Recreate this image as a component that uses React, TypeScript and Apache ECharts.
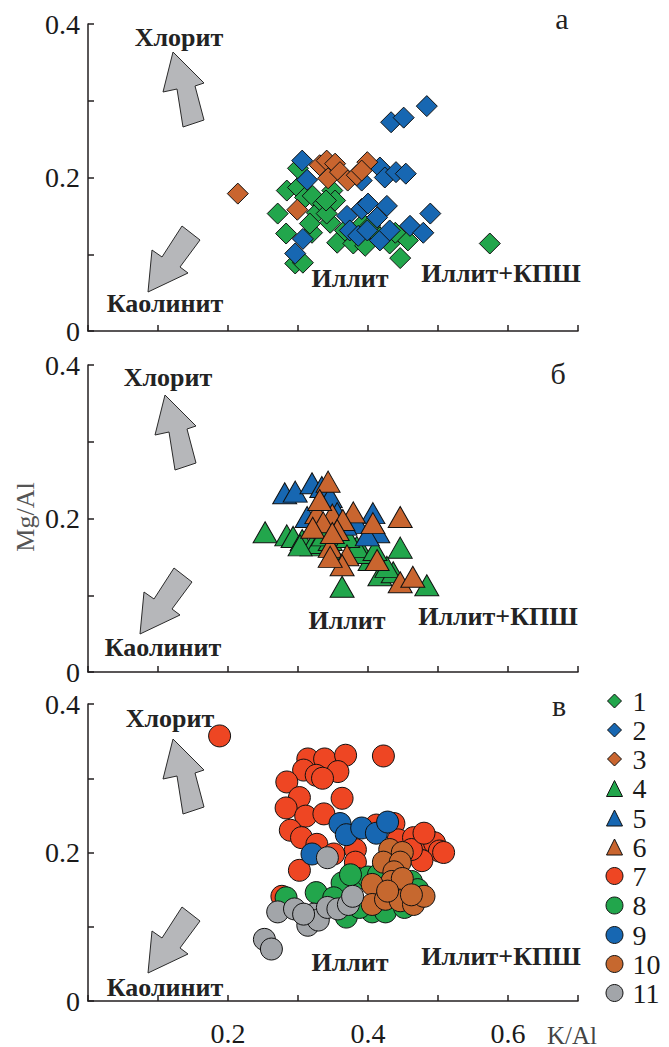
import React, { useEffect, useRef } from 'react';
import * as echarts from 'echarts';

// ---------- DATA ----------
const legendNames = ['1', '2', '3', '4', '5', '6', '7', '8', '9', '10', '11'];
const xLabelValues = [0.2, 0.4, 0.6];
const yLabelValues = [0, 0.2, 0.4];

// panel а — diamonds
const s1: number[][] = [
  [0.574, 0.114], [0.446, 0.095], [0.271, 0.153], [0.284, 0.183], [0.283, 0.127], [0.296, 0.088],
  [0.307, 0.089], [0.300, 0.187], [0.310, 0.174], [0.321, 0.176], [0.327, 0.154], [0.336, 0.166],
  [0.349, 0.183], [0.353, 0.170], [0.346, 0.141], [0.320, 0.128], [0.317, 0.140], [0.356, 0.115],
  [0.379, 0.114], [0.396, 0.111], [0.417, 0.122], [0.431, 0.114], [0.457, 0.118], [0.393, 0.140],
  [0.300, 0.212], [0.341, 0.153], [0.340, 0.170], [0.367, 0.131], [0.403, 0.137], [0.439, 0.128],
];
const s2: number[][] = [
  [0.484, 0.293], [0.433, 0.272], [0.451, 0.278], [0.306, 0.222], [0.313, 0.197], [0.417, 0.213],
  [0.424, 0.200], [0.440, 0.207], [0.454, 0.205], [0.391, 0.196], [0.370, 0.150], [0.391, 0.159],
  [0.400, 0.166], [0.427, 0.163], [0.413, 0.148], [0.374, 0.131], [0.386, 0.124], [0.399, 0.131],
  [0.417, 0.118], [0.431, 0.131], [0.460, 0.137], [0.479, 0.128], [0.489, 0.153], [0.307, 0.120],
  [0.296, 0.101],
];
const s3: number[][] = [
  [0.214, 0.179], [0.299, 0.158], [0.331, 0.216], [0.341, 0.222], [0.343, 0.199], [0.353, 0.218],
  [0.360, 0.207], [0.371, 0.196], [0.384, 0.203], [0.399, 0.220], [0.391, 0.209],
];

// panel б — triangles
const s4: number[][] = [
  [0.253, 0.182], [0.284, 0.178], [0.293, 0.176], [0.306, 0.172], [0.320, 0.165], [0.329, 0.168],
  [0.346, 0.172], [0.363, 0.111], [0.446, 0.162], [0.484, 0.113], [0.417, 0.126], [0.436, 0.130],
  [0.403, 0.146], [0.393, 0.155], [0.384, 0.163], [0.371, 0.176], [0.427, 0.137], [0.336, 0.178],
  [0.303, 0.165], [0.353, 0.152], [0.410, 0.159],
];
const s5: number[][] = [
  [0.281, 0.233], [0.296, 0.235], [0.320, 0.246], [0.334, 0.241], [0.346, 0.228], [0.407, 0.207],
  [0.414, 0.182], [0.399, 0.178], [0.384, 0.194], [0.313, 0.202], [0.356, 0.207], [0.367, 0.192],
];
const s6: number[][] = [
  [0.343, 0.248], [0.446, 0.202], [0.379, 0.208], [0.349, 0.205], [0.327, 0.207], [0.336, 0.195],
  [0.364, 0.198], [0.407, 0.194], [0.346, 0.163], [0.370, 0.152], [0.363, 0.139], [0.413, 0.146],
  [0.446, 0.117], [0.464, 0.124], [0.331, 0.224], [0.321, 0.188], [0.356, 0.185], [0.346, 0.150],
  [0.349, 0.181],
];

// panel в — circles
const s7: number[][] = [
  [0.188, 0.357], [0.314, 0.326], [0.338, 0.326], [0.368, 0.331], [0.422, 0.330], [0.308, 0.311],
  [0.326, 0.304], [0.357, 0.309], [0.335, 0.300], [0.284, 0.295], [0.302, 0.274], [0.363, 0.273],
  [0.283, 0.260], [0.311, 0.249], [0.337, 0.252], [0.289, 0.230], [0.305, 0.220], [0.327, 0.211],
  [0.351, 0.198], [0.382, 0.204], [0.382, 0.187], [0.302, 0.176], [0.277, 0.141], [0.412, 0.237],
  [0.437, 0.239], [0.443, 0.217], [0.465, 0.220], [0.486, 0.217], [0.495, 0.213], [0.502, 0.202],
  [0.477, 0.189], [0.462, 0.204], [0.480, 0.226], [0.508, 0.200],
];
const s8: number[][] = [
  [0.283, 0.139], [0.326, 0.146], [0.363, 0.159], [0.385, 0.165], [0.400, 0.167], [0.462, 0.161],
  [0.471, 0.150], [0.369, 0.113], [0.406, 0.120], [0.425, 0.120], [0.388, 0.126], [0.452, 0.126],
  [0.375, 0.170], [0.351, 0.139], [0.415, 0.170],
];
const s9: number[][] = [
  [0.360, 0.239], [0.369, 0.224], [0.391, 0.233], [0.412, 0.226], [0.428, 0.241], [0.320, 0.198],
];
const s10: number[][] = [
  [0.431, 0.204], [0.449, 0.200], [0.422, 0.187], [0.446, 0.187], [0.437, 0.174], [0.434, 0.161],
  [0.406, 0.157], [0.449, 0.165], [0.406, 0.130], [0.425, 0.137], [0.446, 0.135], [0.465, 0.130],
  [0.480, 0.141], [0.428, 0.148], [0.462, 0.143],
];
const s11: number[][] = [
  [0.342, 0.193], [0.271, 0.120], [0.295, 0.124], [0.314, 0.102], [0.323, 0.117], [0.329, 0.109],
  [0.342, 0.126], [0.357, 0.124], [0.372, 0.130], [0.378, 0.141], [0.252, 0.083], [0.262, 0.070],
  [0.308, 0.117],
];

// ---------- STYLE ----------
const GREEN = '#22a64c';
const BLUE = '#1767b2';
const ORANGE = '#c9652f';
const RED = '#ee4623';
const BROWN = '#c6682f';
const GRAY = '#a2a5a9';
const SERIF = 'Liberation Serif';

const GRID_LEFT = 88;
const GRID_W = 490;
const GRID_H = 307;
const GRID_TOPS = [24, 365, 704];

const upArrow = [[173, 52], [204, 83], [195, 86], [204, 120], [183, 127], [177, 89], [163, 92]];
const downArrow = [[148, 292], [152, 250], [162, 257], [182, 226], [200, 240], [180, 267], [188, 273]];

function shift(pts: number[][], dx: number, dy: number) {
  return pts.map(([x, y]) => [x + dx, y + dy]);
}

function makeAxisX(i: number) {
  return {
    type: 'value', gridIndex: i, min: 0, max: 0.7, interval: 0.1,
    axisLine: { show: true, lineStyle: { color: '#231f20', width: 1.5 } },
    axisTick: { show: true, inside: true, length: 6, lineStyle: { color: '#231f20', width: 1.5 } },
    splitLine: { show: false },
    axisLabel: {
      show: i === 2, margin: 18, fontSize: 28, fontFamily: SERIF, color: '#1a1a1a',
      formatter: (v: number) => {
        const hit = xLabelValues.find((t) => Math.abs(t - v) < 1e-6);
        return hit !== undefined ? hit.toFixed(1) : '';
      },
    },
  };
}
function makeAxisY(i: number) {
  return {
    type: 'value', gridIndex: i, min: 0, max: 0.4, interval: 0.1,
    axisLine: { show: true, lineStyle: { color: '#231f20', width: 1.5 } },
    axisTick: { show: true, inside: true, length: 6, lineStyle: { color: '#231f20', width: 1.5 } },
    splitLine: { show: false },
    axisLabel: {
      margin: 8, fontSize: 28, fontFamily: SERIF, color: '#1a1a1a',
      formatter: (v: number) => {
        const hit = yLabelValues.find((t) => Math.abs(t - v) < 1e-6);
        if (hit === undefined) return '';
        return hit === 0 ? '0' : hit.toFixed(1);
      },
    },
  };
}

function scatter(name: string, grid: number, data: number[][], symbol: string, size: any, color: string) {
  return {
    type: 'scatter', name, xAxisIndex: grid, yAxisIndex: grid, data, symbol, symbolSize: size,
    itemStyle: { color, borderColor: '#111', borderWidth: 1, opacity: 1 },
    emphasis: { disabled: true },
  };
}

function txt(text: string, x: number, y: number, opts: any = {}) {
  return {
    type: 'text', x, y, silent: true,
    style: {
      text, align: 'center', verticalAlign: 'middle',
      fontFamily: SERIF, fontSize: opts.size || 25, fontWeight: opts.bold ? 'bold' : 'normal',
      fill: opts.color || '#232323',
    },
    ...(opts.rotation ? { rotation: opts.rotation } : {}),
  };
}

function arrow(pts: number[][]) {
  return {
    type: 'polygon', silent: true,
    shape: { points: pts },
    style: { fill: '#b6b7ba', stroke: '#2a2a2a', lineWidth: 1 },
  };
}

const legendCenters = [701, 730, 759, 788.5, 818, 847, 876, 905.5, 935, 964, 993];
const legendIconSizes = [14, 14, 14, 16, 16, 16, 17, 17, 17, 17, 17];

function legendItem(i: number) {
  const h = legendIconSizes[i];
  return {
    orient: 'vertical', left: 614 - h / 2, top: legendCenters[i] - 14, padding: 0,
    data: [legendNames[i]], itemWidth: h, itemHeight: h, itemGap: 0,
    selectedMode: false,
    textStyle: { fontSize: 28, fontFamily: SERIF, color: '#1a1a1a', padding: [0, 0, 0, 13 - h / 2] },
    itemStyle: { borderColor: '#111', borderWidth: 1 },
  };
}

export default function App() {
  const ref = useRef<HTMLDivElement>(null);
  useEffect(() => {
    if (!ref.current) return;
    const chart = echarts.init(ref.current, undefined, { renderer: 'svg' });
    const panelText = [
      { chl: [179, 37], kao: [165, 303], ill: [350, 278], illk: [501, 273], let: ['а', 562, 18] },
      { chl: [168, 377], kao: [163, 647], ill: [347, 620], illk: [498, 616], let: ['б', 558, 373] },
      { chl: [170, 718], kao: [165, 987], ill: [350, 962], illk: [501, 956], let: ['в', 559, 705] },
    ];
    const graphics: any[] = [];
    graphics.push(arrow(upArrow), arrow(downArrow));
    graphics.push(arrow(shift(upArrow, -8, 343)), arrow(shift(downArrow, -8, 342)));
    graphics.push(arrow(shift(upArrow, 0, 687)), arrow(shift(downArrow, 0, 681)));
    panelText.forEach((p) => {
      graphics.push(txt('Хлорит', p.chl[0], p.chl[1], { bold: true, size: 26 }));
      graphics.push(txt('Каолинит', p.kao[0], p.kao[1], { bold: true, size: 26 }));
      graphics.push(txt('Иллит', p.ill[0], p.ill[1], { bold: true, size: 26 }));
      graphics.push(txt('Иллит+КПШ', p.illk[0], p.illk[1], { bold: true, size: 26 }));
      graphics.push(txt(p.let[0] as string, p.let[1] as number, p.let[2] as number, { size: 30, color: '#222' }));
    });
    graphics.push(txt('Mg/Al', 25, 517, { size: 26, color: '#555', rotation: Math.PI / 2 }));
    graphics.push({
      type: 'text', x: 547, y: 1035, silent: true,
      style: { text: 'K/Al', align: 'left', verticalAlign: 'middle', fontFamily: SERIF, fontSize: 25, fill: '#444' },
    });

    const diamond = 21;
    const tri = [24, 21];
    const circ = 22;

    chart.setOption({
      animation: false,
      backgroundColor: '#ffffff',
      textStyle: { fontFamily: SERIF },
      grid: GRID_TOPS.map((t) => ({ left: GRID_LEFT, top: t, width: GRID_W, height: GRID_H, containLabel: false })),
      xAxis: [0, 1, 2].map(makeAxisX),
      yAxis: [0, 1, 2].map(makeAxisY),
      legend: legendNames.map((_, i) => legendItem(i)),
      series: [
        scatter(legendNames[0], 0, s1, 'diamond', diamond, GREEN),
        scatter(legendNames[1], 0, s2, 'diamond', diamond, BLUE),
        scatter(legendNames[2], 0, s3, 'diamond', diamond, ORANGE),
        scatter(legendNames[3], 1, s4, 'triangle', tri, GREEN),
        scatter(legendNames[4], 1, s5, 'triangle', tri, BLUE),
        scatter(legendNames[5], 1, s6, 'triangle', tri, ORANGE),
        scatter(legendNames[6], 2, s7, 'circle', circ, RED),
        scatter(legendNames[7], 2, s8, 'circle', circ, GREEN),
        scatter(legendNames[8], 2, s9, 'circle', circ, BLUE),
        scatter(legendNames[9], 2, s10, 'circle', circ, BROWN),
        scatter(legendNames[10], 2, s11, 'circle', circ, GRAY),
      ],
      graphic: graphics,
    });
    return () => chart.dispose();
  }, []);
  return <div ref={ref} style={{ position: 'fixed', left: 0, top: 0, width: 669, height: 1047 }} />;
}
